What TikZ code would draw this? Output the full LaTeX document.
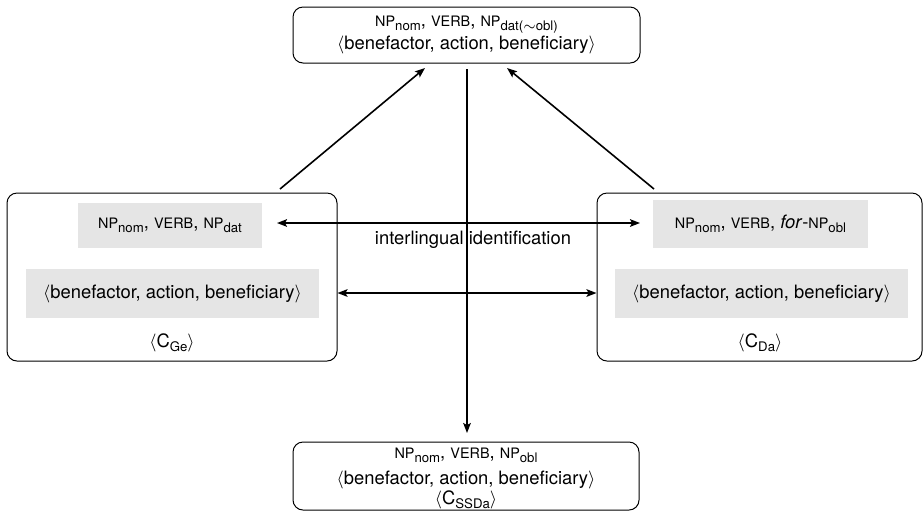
\documentclass[tikz,border=0pt]{standalone}
\usepackage{fontspec}
\setmainfont{TeX Gyre Heros}
\usetikzlibrary{arrows.meta}

% small capitals and subscripts used in the construction schemas
\newcommand{\capsz}[1]{{\fontsize{7.2}{8}\selectfont #1}}
\newcommand{\subsz}[1]{\raisebox{-0.22em}{\fontsize{6.6}{7}\selectfont #1}}
\newcommand{\NPx}[1]{\capsz{NP}\subsz{#1}}
\newcommand{\triple}{$\langle$benefactor, action, beneficiary$\rangle$}

\begin{document}
\begin{tikzpicture}[x=0.5pt,y=-0.5pt,
  frame/.style={draw, line width=0.5pt, rounded corners=5pt, inner sep=0pt},
  shade/.style={fill=black!10, inner sep=0pt},
  txt/.style={inner sep=0pt, font=\fontsize{9.2}{11}\selectfont},
  arr/.style={line width=0.8pt, -{Stealth[length=5pt,width=3.8pt,inset=1pt]}},
  darr/.style={line width=0.8pt, {Stealth[length=5pt,width=3.8pt,inset=1pt]}-{Stealth[length=5pt,width=3.8pt,inset=1pt]}}]
\useasboundingbox (0,0) rectangle (924,511);

% boxes
\node[frame, minimum width=173.5pt, minimum height=28pt] (top) at (466.5,35) {};
\node[frame, minimum width=165pt, minimum height=84pt] (ge) at (172,277) {};
\node[frame, minimum width=162.5pt, minimum height=84pt] (da) at (759.5,277) {};
\node[frame, minimum width=173pt, minimum height=34pt] (bot) at (466,476) {};

% shaded fields inside the side boxes
\node[shade, minimum width=92pt, minimum height=22.5pt] (ge1) at (170,225.5) {};
\node[shade, minimum width=146.5pt, minimum height=24.5pt] (ge2) at (172.5,293.5) {};
\node[shade, minimum width=107.5pt, minimum height=24pt] (da1) at (760.5,224) {};
\node[shade, minimum width=146.5pt, minimum height=24.5pt] (da2) at (761.5,293.5) {};

% texts
\node[txt] (topa) at (466.5,25) {\NPx{nom}, \capsz{VERB}, \NPx{dat($\sim$obl)}};
\node[txt] (topb) at (466.5,44.5) {\triple};
\node[txt] (ge1t) at (170,225.5) {\NPx{nom}, \capsz{VERB}, \NPx{dat}};
\node[txt] (ge2t) at (172.5,293.5) {\triple};
\node[txt] (gec) at (172,343) {$\langle$C\subsz{Ge}$\rangle$};
\node[txt] (da1t) at (760.5,224) {\NPx{nom}, \capsz{VERB}, \textit{for}-\NPx{obl}};
\node[txt] (da2t) at (761.5,293.5) {\triple};
\node[txt] (dac) at (760,343) {$\langle$C\subsz{Da}$\rangle$};
\node[txt] (bota) at (466,455) {\NPx{nom}, \capsz{VERB}, \NPx{obl}};
\node[txt] (botb) at (466,480) {\triple};
\node[txt] (botc) at (466,499.5) {$\langle$C\subsz{SSDa}$\rangle$};
\node[txt] (ident) at (473,240) {interlingual identification};

% connector end points
\coordinate (gTail) at (280,189);
\coordinate (gHead) at (425,68);
\coordinate (dTail) at (654,189);
\coordinate (dHead) at (507,68);
\coordinate (vTail) at (467,69);
\coordinate (vHead) at (467,433);
\coordinate (fL) at (277,223);
\coordinate (fR) at (640,223);
\coordinate (mL) at (ge.east |- 0,293);
\coordinate (mR) at (da.west |- 0,293);

% connectors
\draw[arr] (gTail) -- (gHead);
\draw[arr] (dTail) -- (dHead);
\draw[arr] (vTail) -- (vHead);
\draw[darr] (fL) -- (fR);
\draw[darr] (mL) -- (mR);
\end{tikzpicture}
\end{document}
